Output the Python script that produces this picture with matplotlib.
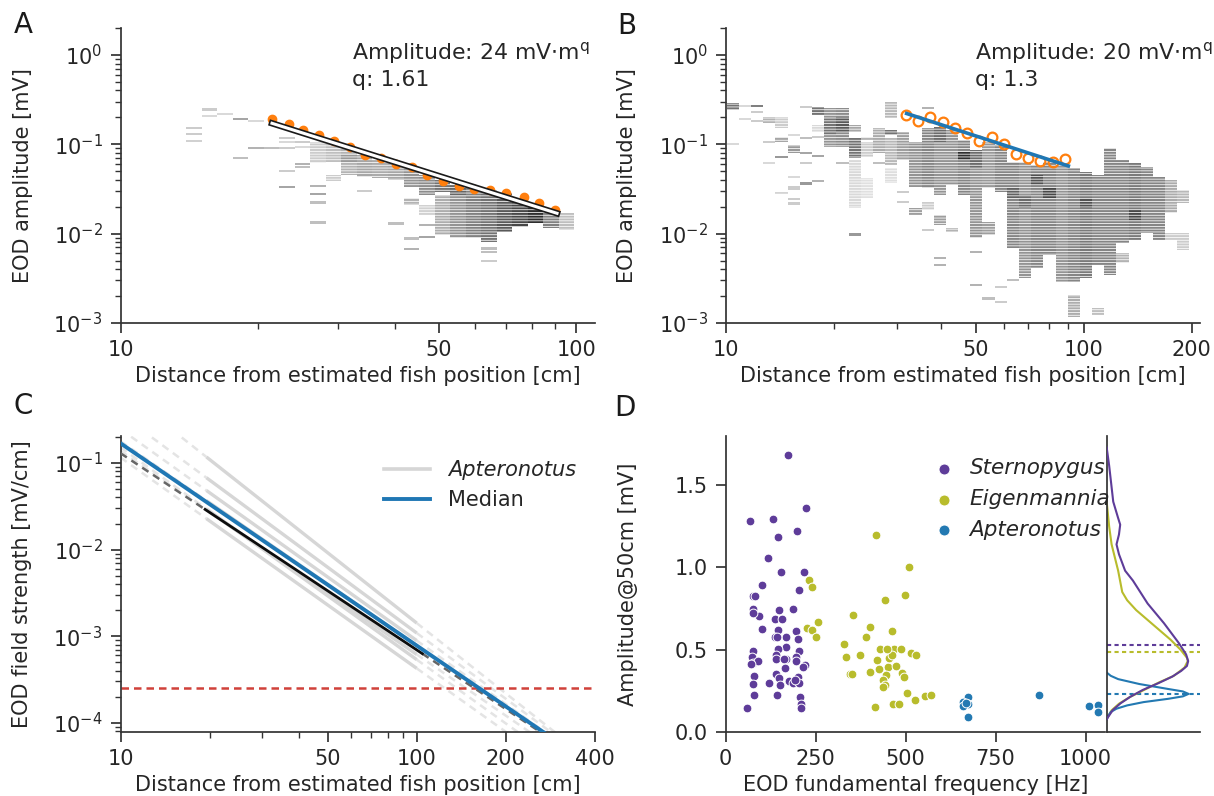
import numpy as np
import matplotlib
matplotlib.use("Agg")
import matplotlib.pyplot as plt
import matplotlib.patheffects as pe
from matplotlib.patches import Rectangle
from matplotlib.lines import Line2D
from matplotlib.ticker import FixedLocator, NullFormatter, FuncFormatter, LogLocator

plt.rcParams.update({
    "font.family": ["DejaVu Sans"],
    "font.size": 15,
    "axes.edgecolor": "0.2",
    "axes.linewidth": 1.25,
    "axes.labelcolor": "0.15",
    "text.color": "0.15",
    "xtick.color": "0.2", "ytick.color": "0.2",
    "xtick.labelcolor": "0.15", "ytick.labelcolor": "0.15",
    "xtick.major.size": 7.5, "ytick.major.size": 7.5,
    "xtick.minor.size": 4, "ytick.minor.size": 4,
    "xtick.major.width": 1.25, "ytick.major.width": 1.25,
    "xtick.minor.width": 1.0, "ytick.minor.width": 1.0,
    "xtick.major.pad": 5, "ytick.major.pad": 5.5,
    "xtick.labelsize": 15, "ytick.labelsize": 15,
    "axes.labelsize": 15,
    "mathtext.default": "regular",
    "hatch.linewidth": 0.55,
})

# ---------------- data ----------------
# Panel A : binned amplitudes (column index, log10 top, log10 bottom, darkness)
a_col_start = 1.1437      # log10 distance of first column edge
a_col_width = 0.0341      # column width in decades
a_heat_cells = [
    (0, -0.814, -0.814, 0.2), (0, -0.888, -0.888, 0.2), (0, -0.960, -0.960, 0.18),
    (1, -0.612, -0.612, 0.2), (1, -0.680, -0.680, 0.15),
    (2, -0.664, -0.664, 0.15),
    (3, -0.717, -0.717, 0.35), (3, -1.150, -1.150, 0.25),
    (4, -0.739, -0.739, 0.15), (4, -1.045, -1.045, 0.3),
    (5, -1.045, -1.045, 0.25),
    (6, -0.926, -0.926, 0.2), (6, -0.971, -0.971, 0.15), (6, -1.038, -1.038, 0.2),
    (6, -1.299, -1.299, 0.2), (6, -1.475, -1.475, 0.35),
    (7, -0.971, -0.971, 0.2), (7, -1.027, -1.027, 0.15), (7, -1.224, -1.224, 0.3), (7, -1.251, -1.251, 0.25),
    (8, -0.971, -1.210, 0.2), (8, -1.464, -1.464, 0.3), (8, -1.560, -1.560, 0.35),
    (8, -1.650, -1.650, 0.25), (8, -1.874, -1.874, 0.25),
    (9, -1.000, -1.195, 0.25), (9, -1.344, -1.411, 0.2),
    (10, -1.045, -1.344, 0.3), (10, -1.120, -1.200, 0.4),
    (11, -1.120, -1.363, 0.35), (11, -1.523, -1.523, 0.2),
    (12, -1.176, -1.381, 0.33),
    (13, -1.213, -1.400, 0.35), (13, -1.885, -1.885, 0.25),
    (14, -1.251, -1.475, 0.42), (14, -1.605, -1.680, 0.3), (14, -2.053, -2.053, 0.25), (14, -2.172, -2.172, 0.3),
    (15, -1.344, -1.568, 0.45), (15, -1.680, -1.792, 0.18), (15, -1.904, -1.904, 0.3), (15, -2.034, -2.034, 0.35),
    (16, -1.400, -1.531, 0.55), (16, -1.568, -2.016, 0.32),
    (17, -1.456, -1.568, 0.6), (17, -1.568, -2.053, 0.42),
    (18, -1.475, -2.053, 0.5),
    (19, -1.512, -2.090, 0.55), (19, -2.165, -2.165, 0.25), (19, -2.202, -2.202, 0.25), (19, -2.303, -2.303, 0.2),
    (20, -1.549, -1.979, 0.65),
    (21, -1.624, -1.926, 0.72),
    (22, -1.657, -1.881, 0.82),
    (23, -1.713, -1.937, 0.5),
    (24, -1.769, -1.960, 0.25),
]
a_mean_dist = [21.5, 23.4, 25.2, 27.3, 29.4, 31.9, 34.4, 37.3, 40.3, 43.6,
               47.1, 51.1, 55.2, 59.6, 64.6, 70.0, 76.7, 83.0, 89.9]
a_mean_amp = [0.192, 0.1675, 0.1445, 0.127, 0.1097, 0.094, 0.0759, 0.0708, 0.0597, 0.0561,
              0.0453, 0.0388, 0.0344, 0.0313, 0.0305, 0.0285, 0.0259, 0.0218, 0.0184]
a_fit_amp, a_fit_q = 24.0, 1.61
a_fit_range = [21.5, 90.8]

# Panel B
b_col_start = 1.0028
b_col_width = 0.0340
b_heat_cells = [
    (0, -0.538, -0.616, 0.55), (0, -1.0, -1.0, 0.15),
    (1, -0.568, -0.568, 0.15), (1, -0.717, -0.717, 0.15),
    (2, -0.568, -0.568, 0.5), (2, -0.642, -0.642, 0.2), (2, -0.739, -0.739, 0.2),
    (3, -0.691, -0.765, 0.3), (3, -0.978, -0.978, 0.2), (3, -1.213, -1.213, 0.15),
    (4, -0.691, -0.821, 0.2), (4, -0.915, -0.971, 0.35), (4, -1.139, -1.139, 0.4), (4, -1.531, -1.560, 0.25),
    (5, -0.896, -0.896, 0.15), (5, -1.008, -1.101, 0.4), (5, -1.363, -1.363, 0.15), (5, -1.475, -1.475, 0.2),
    (5, -1.504, -1.504, 0.2), (5, -1.613, -1.613, 0.2), (5, -1.661, -1.661, 0.2),
    (6, -0.579, -0.579, 0.2), (6, -0.933, -0.933, 0.25), (6, -1.101, -1.101, 0.35),
    (6, -1.213, -1.213, 0.2), (6, -1.437, -1.437, 0.4),
    (7, -0.579, -0.672, 0.55), (7, -0.784, -0.859, 0.15), (7, -0.915, -0.915, 0.2),
    (7, -1.131, -1.131, 0.35), (7, -1.408, -1.408, 0.3),
    (8, -0.597, -1.027, 0.42), (8, -0.705, -0.896, 0.55),
    (9, -0.597, -1.027, 0.45), (9, -0.691, -0.859, 0.65), (9, -1.213, -1.213, 0.25),
    (10, -0.784, -0.859, 0.35), (10, -0.933, -1.157, 0.55), (10, -1.176, -1.713, 0.15), (10, -2.008, -2.008, 0.4),
    (11, -0.915, -0.952, 0.3), (11, -0.971, -1.139, 0.2), (11, -1.381, -1.605, 0.12),
    (12, -0.821, -1.101, 0.33), (12, -1.213, -1.213, 0.25),
    (13, -0.523, -0.709, 0.28), (13, -0.840, -0.896, 0.55), (13, -0.933, -1.232, 0.28), (13, -1.269, -1.437, 0.13),
    (14, -0.859, -1.176, 0.38), (14, -1.531, -1.531, 0.2), (14, -1.643, -1.643, 0.2),
    (15, -0.971, -1.475, 0.42), (15, -1.717, -1.792, 0.38),
    (16, -0.597, -0.597, 0.3), (16, -0.817, -1.489, 0.48), (16, -1.643, -1.736, 0.2), (16, -1.960, -1.960, 0.2),
    (17, -0.803, -1.568, 0.42), (17, -0.803, -0.971, 0.58), (17, -1.792, -1.904, 0.38),
    (17, -2.273, -2.273, 0.3), (17, -2.352, -2.352, 0.3),
    (18, -0.840, -1.456, 0.42), (18, -1.937, -1.982, 0.3),
    (19, -0.952, -1.568, 0.48), (19, -1.083, -1.176, 0.82),
    (20, -1.064, -2.053, 0.42), (20, -1.064, -1.269, 0.58), (20, -2.203, -2.203, 0.3), (20, -2.576, -2.576, 0.3),
    (21, -0.971, -1.493, 0.4), (21, -1.867, -2.016, 0.38), (21, -2.725, -2.725, 0.25),
    (22, -1.008, -1.531, 0.48), (22, -2.595, -2.595, 0.2), (22, -2.763, -2.763, 0.2),
    (23, -1.195, -2.165, 0.48), (23, -1.489, -1.601, 0.62), (23, -2.520, -2.520, 0.25),
    (24, -1.195, -2.500, 0.42), (24, -1.568, -1.713, 0.58),
    (25, -1.232, -2.389, 0.48), (25, -1.344, -1.456, 0.68),
    (26, -1.195, -2.240, 0.48), (26, -1.489, -1.601, 0.72),
    (27, -1.232, -2.539, 0.42),
    (28, -1.269, -2.539, 0.48), (28, -2.688, -2.931, 0.32),
    (29, -1.307, -2.500, 0.52), (29, -1.601, -1.713, 0.68),
    (30, -1.344, -2.352, 0.48), (30, -2.837, -2.912, 0.25),
    (31, -1.045, -2.464, 0.48),
    (32, -1.176, -2.105, 0.48), (32, -2.217, -2.329, 0.3),
    (33, -1.209, -2.072, 0.52), (33, -1.736, -1.848, 0.72),
    (34, -1.254, -1.993, 0.48),
    (35, -1.366, -2.072, 0.48),
    (36, -1.400, -1.769, 0.33), (36, -1.993, -2.072, 0.2),
    (37, -1.512, -1.657, 0.28), (37, -1.993, -2.184, 0.2),
]
b_mean_dist = [31.9, 34.5, 37.2, 40.3, 43.7, 47.3, 51.1, 55.4, 59.9, 64.8, 70.0, 75.5, 81.8, 88.3]
b_mean_amp = [0.213, 0.182, 0.204, 0.179, 0.151, 0.133, 0.109, 0.120, 0.1007, 0.0773,
              0.0697, 0.0655, 0.0638, 0.0685]
b_fit_amp, b_fit_q = 20.0, 1.3
b_fit_range = [32.0, 90.5]

# Panel C : field strength fits  E = 10**logc * d**exponent
c_apt_logc = [1.497, 1.830, 2.087, 2.552, 1.630, 1.490, 1.610]
c_apt_exp = [-2.434, -2.44, -2.525, -2.70, -2.45, -2.35, -2.36]
c_apt_range = [19.5, 100.0]
c_black_logc, c_black_exp = 1.382, -2.27
c_black_range = [19.3, 104.5]
c_median_logc, c_median_exp = 1.562, -2.335
c_threshold = 2.5e-4
c_dist_span = [10.0, 400.0]

# Panel D : scatter
stern_f = [172.5, 222.3, 67.2, 130.2, 197.4, 145.3, 116.1, 154.0, 216.9, 99.8, 202.8, 75.9, 81.3,
           75.9, 92.2, 74.8, 148.6, 135.6, 156.2, 186.6, 99.8, 146.4, 168.1, 195.2, 135.6, 143.2,
           200.7, 167.0, 146.4, 141.0, 202.8, 75.9, 72.7, 195.2, 167.0, 75.9, 88.9, 69.4, 221.3,
           213.7, 141.0, 162.7, 164.9, 195.2, 78.1, 139.9, 148.6, 199.6, 175.7, 186.6, 119.3, 75.9,
           150.8, 205.0, 78.1, 143.2, 206.1, 208.2, 208.2, 59.7, 192.0]
stern_a = [1.687, 1.362, 1.280, 1.295, 1.219, 1.185, 1.059, 0.970, 0.970, 0.894, 0.864, 0.823, 0.823,
           0.746, 0.705, 0.722, 0.742, 0.687, 0.685, 0.746, 0.624, 0.620, 0.575, 0.610, 0.575, 0.575,
           0.563, 0.518, 0.502, 0.467, 0.494, 0.494, 0.457, 0.457, 0.443, 0.417, 0.431, 0.411, 0.407,
           0.396, 0.441, 0.441, 0.386, 0.433, 0.339, 0.352, 0.325, 0.335, 0.309, 0.299, 0.299, 0.291,
           0.285, 0.295, 0.222, 0.226, 0.209, 0.167, 0.142, 0.146, 0.315]
eigen_f = [232.1, 240.8, 417.6, 509.8, 497.8, 441.4, 352.5, 257.0, 226.7, 238.6, 251.6, 400.2, 329.7,
           463.1, 335.1, 374.2, 428.4, 466.4, 488.1, 514.1, 528.2, 419.7, 452.3, 474.0, 346.0, 351.4,
           401.3, 425.2, 444.7, 490.2, 495.7, 438.2, 442.5, 436.0, 504.3, 527.1, 553.1, 571.6, 414.3,
           465.3, 481.6, 454.4, 463.1, 390.5, 446.9]
eigen_a = [0.925, 0.880, 1.195, 1.000, 0.833, 0.799, 0.711, 0.665, 0.630, 0.616, 0.579, 0.640, 0.533,
           0.614, 0.457, 0.467, 0.502, 0.502, 0.502, 0.478, 0.465, 0.437, 0.396, 0.400, 0.352, 0.352,
           0.366, 0.382, 0.346, 0.360, 0.335, 0.315, 0.285, 0.270, 0.234, 0.193, 0.220, 0.222, 0.152,
           0.169, 0.169, 0.447, 0.467, 0.575, 0.502]
apter_f = [674.6, 658.4, 674.6, 658.4, 674.6, 869.8, 1010.8, 1034.7, 1034.7, 669.0]
apter_a = [0.213, 0.183, 0.169, 0.157, 0.091, 0.224, 0.157, 0.163, 0.122, 0.177]

# marginal density curves (amplitude, relative density)
kde_stern_amp = [1.73, 1.62, 1.55, 1.40, 1.30, 1.26, 1.20, 1.14, 1.08, 0.98, 0.92, 0.85, 0.78, 0.72,
                 0.66, 0.60, 0.54, 0.47, 0.43, 0.40, 0.37, 0.335, 0.295, 0.254, 0.213, 0.173, 0.132,
                 0.091, 0.075]
kde_stern_den = [0.0, 0.03, 0.046, 0.08, 0.14, 0.165, 0.15, 0.12, 0.15, 0.225, 0.32, 0.41, 0.50, 0.60,
                 0.70, 0.79, 0.88, 0.97, 0.995, 0.98, 0.91, 0.80, 0.63, 0.44, 0.29, 0.17, 0.075, 0.02, 0.0]
kde_eigen_amp = [1.40, 1.35, 1.25, 1.14, 0.98, 0.85, 0.80, 0.74, 0.68, 0.62, 0.56, 0.50, 0.45, 0.43,
                 0.39, 0.34, 0.30, 0.25, 0.21, 0.17, 0.13, 0.09, 0.075]
kde_eigen_den = [0.0, 0.01, 0.03, 0.06, 0.14, 0.19, 0.25, 0.36, 0.50, 0.64, 0.78, 0.90, 0.98, 0.99,
                 0.95, 0.82, 0.64, 0.44, 0.28, 0.15, 0.06, 0.015, 0.0]
kde_apter_amp = [0.36, 0.34, 0.32, 0.29, 0.26, 0.245, 0.23, 0.215, 0.20, 0.18, 0.16, 0.14, 0.12, 0.09, 0.075]
kde_apter_den = [0.0, 0.05, 0.14, 0.40, 0.75, 0.93, 1.0, 0.93, 0.75, 0.45, 0.25, 0.12, 0.05, 0.01, 0.0]
median_amp = {"Sternopygus": 0.528, "Eigenmannia": 0.488, "Apteronotus": 0.23}

# ---------------- style ----------------
C_ORANGE = "#ff7f0e"
C_BLUE = "#1f77b4"
C_STERN = "#5e3c99"
C_EIGEN = "#b8bc2c"
C_APTER = "#2379b2"
C_LIGHT = "#d6d6d6"
C_LIGHT_DASH = "#e4e4e4"
C_RED = "#d0413a"


def despine(ax):
    ax.spines["top"].set_visible(False)
    ax.spines["right"].set_visible(False)


def numfmt(v, p):
    return f"{v:g}"


def setup_log_dist(ax, xlim, majors, minors):
    ax.set_xscale("log")
    ax.set_xlim(*xlim)
    ax.xaxis.set_major_locator(FixedLocator(majors))
    ax.xaxis.set_major_formatter(FuncFormatter(numfmt))
    ax.xaxis.set_minor_locator(FixedLocator(minors))
    ax.xaxis.set_minor_formatter(NullFormatter())


def setup_log_amp(ax, ylim):
    ax.set_yscale("log")
    ax.set_ylim(*ylim)
    ax.yaxis.set_major_locator(LogLocator(base=10))
    ax.yaxis.set_minor_locator(LogLocator(base=10, subs=np.arange(2, 10)))
    ax.yaxis.set_minor_formatter(NullFormatter())


def draw_heat(ax, cells, start, width):
    for k, top, bot, d in cells:
        x0 = 10 ** (start + k * width)
        x1 = 10 ** (start + (k + 1) * width)
        if top == bot:
            top, bot = top + 0.013, bot - 0.013
            hatch = None
        else:
            hatch = "------"
        g = 1 - d
        ax.add_patch(Rectangle((x0, 10 ** bot), x1 - x0, 10 ** top - 10 ** bot,
                               facecolor=(g, g, g), edgecolor="white", lw=0,
                               hatch=hatch, zorder=1))


fig = plt.figure(figsize=(12.14, 7.96), dpi=100)

# ---------------- Panel A ----------------
axA = fig.add_axes([0.0993, 0.5942, 0.3908, 0.3706])
despine(axA)
setup_log_dist(axA, (10, 110), [10, 50, 100], [20, 30, 40, 60, 70, 80, 90])
setup_log_amp(axA, (1e-3, 2))
draw_heat(axA, a_heat_cells, a_col_start, a_col_width)
axA.plot(a_mean_dist, a_mean_amp, "o", color=C_ORANGE, ms=6, zorder=3)
xs = np.array(a_fit_range)
axA.plot(xs, a_fit_amp * xs ** (-a_fit_q), color="white", lw=2.2, zorder=4,
         path_effects=[pe.Stroke(linewidth=4.6, foreground="0.1"), pe.Normal()])
axA.text(0.488, 0.915, r"Amplitude: 24 mV$\cdot$m$^\mathrm{q}$", transform=axA.transAxes,
         fontsize=15.8, va="center")
axA.text(0.488, 0.824, "q: 1.61", transform=axA.transAxes, fontsize=15.8, va="center")
axA.set_xlabel("Distance from estimated fish position [cm]")
axA.set_ylabel("EOD amplitude [mV]")
axA.yaxis.set_label_coords(-0.185, 0.5)

# ---------------- Panel B ----------------
axB = fig.add_axes([0.5978, 0.5942, 0.3907, 0.3706])
despine(axB)
setup_log_dist(axB, (10, 211), [10, 50, 100, 200], [20, 30, 40, 60, 70, 80, 90])
setup_log_amp(axB, (1e-3, 2))
draw_heat(axB, b_heat_cells, b_col_start, b_col_width)
axB.plot(b_mean_dist, b_mean_amp, "o", mfc="none", mec=C_ORANGE, mew=1.6, ms=7, zorder=3)
xs = np.array(b_fit_range)
axB.plot(xs, b_fit_amp * xs ** (-b_fit_q), color=C_BLUE, lw=2.6, zorder=4)
axB.text(0.526, 0.915, r"Amplitude: 20 mV$\cdot$m$^\mathrm{q}$", transform=axB.transAxes,
         fontsize=15.8, va="center")
axB.text(0.526, 0.824, "q: 1.3", transform=axB.transAxes, fontsize=15.8, va="center")
axB.set_xlabel("Distance from estimated fish position [cm]")
axB.set_ylabel("EOD amplitude [mV]")
axB.yaxis.set_label_coords(-0.187, 0.5)

# ---------------- Panel C ----------------
axC = fig.add_axes([0.0993, 0.0808, 0.3908, 0.3715])
despine(axC)
setup_log_dist(axC, (10, 400), [10, 50, 100, 200, 400], [20, 30, 40, 60, 70, 80, 90])
setup_log_amp(axC, (7.9e-5, 0.205))


def field(logc, ex, d):
    d = np.asarray(d, dtype=float)
    return 10 ** logc * d ** ex


dash = (0, (3, 2.2))
for logc, ex in zip(c_apt_logc, c_apt_exp):
    lo, hi = c_apt_range
    axC.plot([c_dist_span[0], lo], field(logc, ex, [c_dist_span[0], lo]), color=C_LIGHT_DASH,
             lw=1.8, ls=dash, zorder=1)
    axC.plot([hi, c_dist_span[1]], field(logc, ex, [hi, c_dist_span[1]]), color=C_LIGHT_DASH,
             lw=1.8, ls=dash, zorder=1)
    axC.plot([lo, hi], field(logc, ex, [lo, hi]), color=C_LIGHT, lw=2.4, zorder=2,
             solid_capstyle="butt")
lo, hi = c_black_range
axC.plot([c_dist_span[0], lo], field(c_black_logc, c_black_exp, [c_dist_span[0], lo]),
         color="0.4", lw=1.8, ls=dash, zorder=3)
axC.plot([hi, c_dist_span[1]], field(c_black_logc, c_black_exp, [hi, c_dist_span[1]]),
         color="0.4", lw=1.8, ls=dash, zorder=3)
axC.plot([lo, hi], field(c_black_logc, c_black_exp, [lo, hi]), color="0.05", lw=2.0, zorder=3)
axC.plot(c_dist_span, field(c_median_logc, c_median_exp, c_dist_span), color=C_BLUE, lw=2.8, zorder=4)
axC.axhline(c_threshold, color=C_RED, lw=1.8, ls=(0, (3, 2)), zorder=2)
leg = axC.legend(handles=[Line2D([], [], color=C_LIGHT, lw=2.6),
                          Line2D([], [], color=C_BLUE, lw=2.8)],
                 labels=["Apteronotus", "Median"], loc="upper left",
                 bbox_to_anchor=(0.524, 0.968), frameon=False, fontsize=15,
                 handlelength=2.2, handletextpad=0.9, labelspacing=0.5, borderpad=0.2)
leg.get_texts()[0].set_style("italic")
axC.set_xlabel("Distance from estimated fish position [cm]")
axC.set_ylabel("EOD field strength [mV/cm]")
axC.yaxis.set_label_coords(-0.187, 0.5)

# ---------------- Panel D ----------------
axK = fig.add_axes([0.9116, 0.0808, 0.0769, 0.3715])
axD = fig.add_axes([0.5978, 0.0808, 0.3124, 0.3715])
axD.set_zorder(axK.get_zorder() + 1)
axD.patch.set_visible(False)
despine(axD)
axD.set_xlim(0, 1054)
axD.set_ylim(0, 1.8)
axD.set_xticks([0, 250, 500, 750, 1000])
axD.set_yticks([0.0, 0.5, 1.0, 1.5])
axD.yaxis.set_major_formatter(FuncFormatter(lambda v, p: f"{v:.1f}"))
sc_kw = dict(s=40, edgecolors="white", linewidths=0.7, zorder=3)
axD.scatter(stern_f, stern_a, color=C_STERN, label="Sternopygus", **sc_kw)
axD.scatter(eigen_f, eigen_a, color=C_EIGEN, label="Eigenmannia", **sc_kw)
axD.scatter(apter_f, apter_a, color=C_APTER, label="Apteronotus", **sc_kw)
legD = axD.legend(loc="upper left", bbox_to_anchor=(0.478, 0.975), frameon=False, fontsize=15.5,
                  handletextpad=0.2, labelspacing=0.5, borderpad=0.2, markerscale=1.25)
for t in legD.get_texts():
    t.set_style("italic")
axD.set_xlabel("EOD fundamental frequency [Hz]")
axD.set_ylabel("Amplitude@50cm [mV]")
axD.yaxis.set_label_coords(-0.231, 0.5)

# marginal densities
axK.spines["top"].set_visible(False)
axK.spines["right"].set_visible(False)
axK.set_ylim(0, 1.8)
axK.set_xlim(0, 1.14)
axK.set_xticks([])
axK.set_yticks([])
axK.plot(kde_stern_den, kde_stern_amp, color=C_STERN, lw=1.5, zorder=3)
axK.plot(kde_eigen_den, kde_eigen_amp, color=C_EIGEN, lw=1.5, zorder=2)
axK.plot(kde_apter_den, kde_apter_amp, color=C_APTER, lw=1.5, zorder=2)
for name, col in [("Sternopygus", C_STERN), ("Eigenmannia", C_EIGEN), ("Apteronotus", C_APTER)]:
    axK.axhline(median_amp[name], color=col, lw=1.5, ls=(0, (2, 1.6)), zorder=1)

# panel letters
for lab, x, y in [("A", 0.019, 0.9686), ("B", 0.516, 0.967), ("C", 0.019, 0.490), ("D", 0.515, 0.4874)]:
    fig.text(x, y, lab, fontsize=20, ha="center", va="center", color="0.1")

fig.savefig("out.png", dpi=100)
